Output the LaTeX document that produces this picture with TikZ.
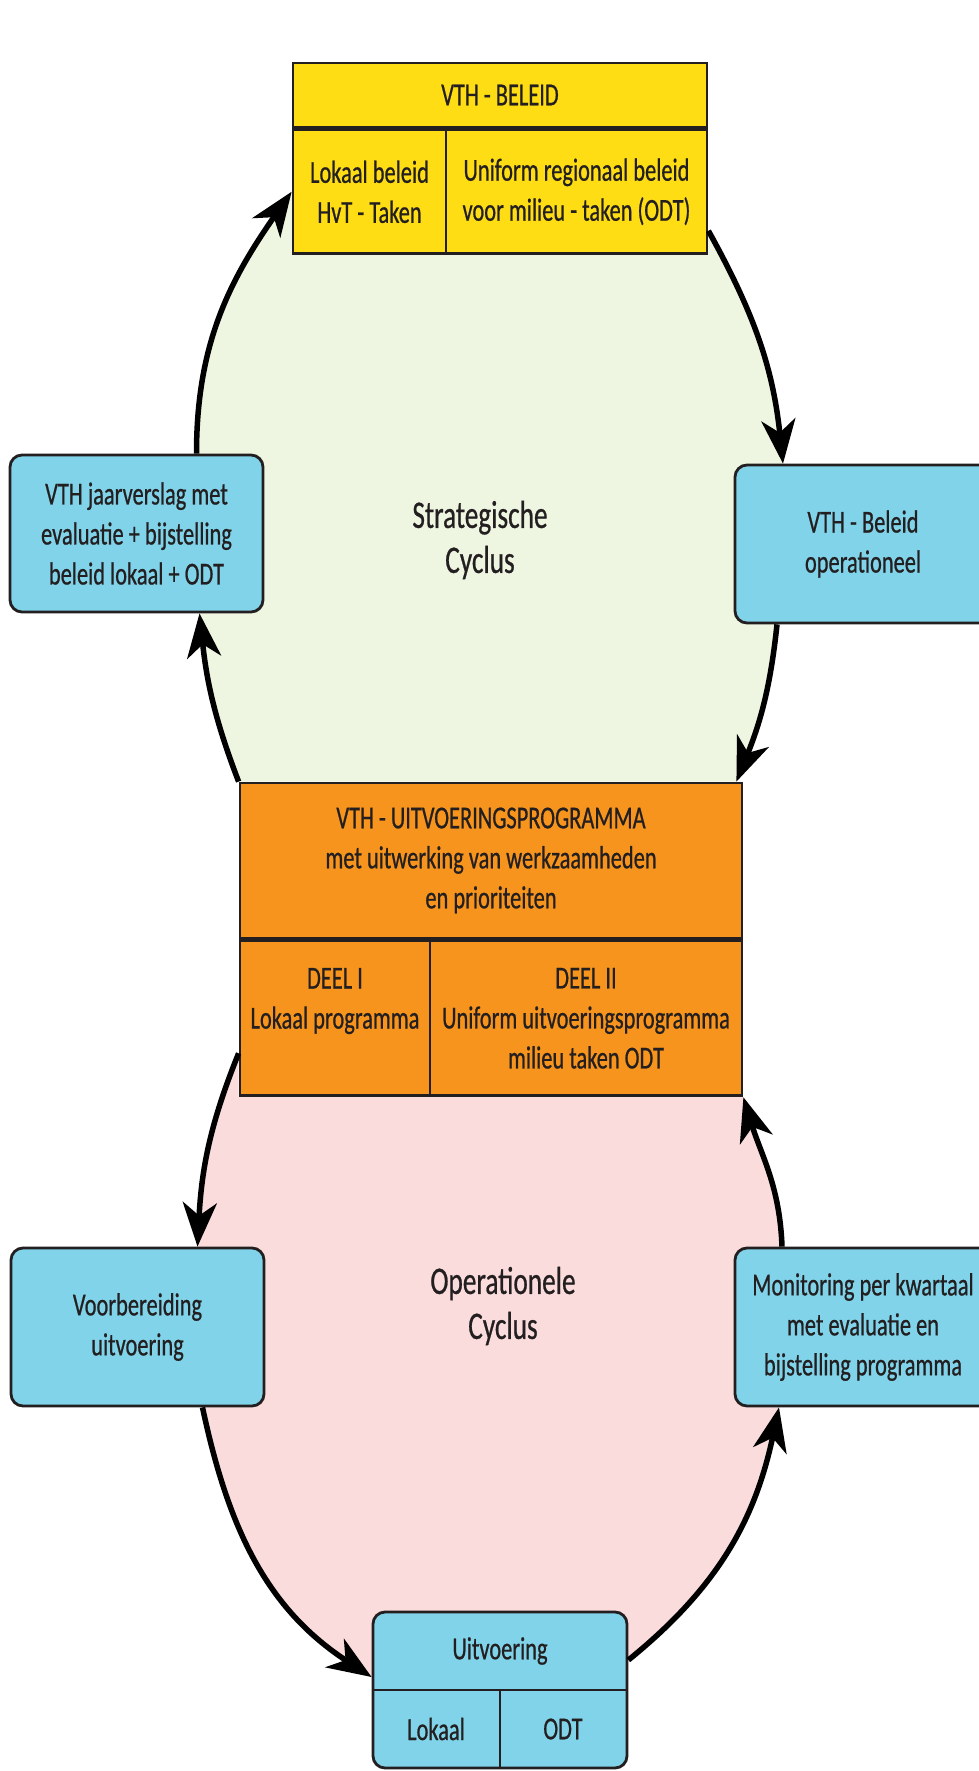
\documentclass[tikz,border=0pt]{standalone}
\usepackage{fontspec}
\setmainfont[FakeStretch=0.7,FakeBold=0.6]{Carlito}
\usetikzlibrary{arrows.meta,positioning,calc,backgrounds}

\definecolor{geel}{HTML}{FFDD15}
\definecolor{oranje}{HTML}{F7941D}
\definecolor{blauw}{HTML}{80D3E9}
\definecolor{groen}{HTML}{EEF5E1}
\definecolor{roze}{HTML}{FADCDD}
\definecolor{lijn}{HTML}{231F20}

\tikzset{
  blok/.style={draw=lijn, line width=2.8pt, text=lijn, align=center, inner sep=0pt},
  vak/.style={blok, fill=blauw, rounded corners=12pt},
  label/.style={text=lijn, align=center, inner sep=0pt},
  pijl/.style={draw=black, line width=5.5pt, -{Stealth[length=44pt,width=34pt,inset=13pt]}},
}

\begin{document}
\begin{tikzpicture}[x=1pt,y=-1pt,font=\fontsize{32}{40}\selectfont]
\useasboundingbox (0,0) rectangle (979,1771);
% VTH beleid
\node[blok, fill=geel, minimum width=414pt, minimum height=64pt] (beleid) at (500,95) {VTH - BELEID};
\node[blok, fill=geel, minimum width=153pt, minimum height=124pt, anchor=north west] (lokbeleid) at (beleid.south west) {Lokaal beleid\\HvT - Taken};
\node[blok, fill=geel, minimum width=261pt, minimum height=124pt, anchor=north east] (regbeleid) at (beleid.south east) {Uniform regionaal beleid\\voor milieu - taken (ODT)};
% uitvoeringsprogramma
\node[blok, fill=oranje, minimum width=502pt, minimum height=155pt] (uitvprog) at (491,860.5) {VTH - UITVOERINGSPROGRAMMA\\met uitwerking van werkzaamheden\\en prioriteiten};
\node[blok, fill=oranje, minimum width=190pt, minimum height=155pt, anchor=north west] (deel1) at (uitvprog.south west) {DEEL I\\Lokaal programma\\~};
\node[blok, fill=oranje, minimum width=312pt, minimum height=155pt, anchor=north east] (deel2) at (uitvprog.south east) {DEEL II\\Uniform uitvoeringsprogramma\\milieu taken ODT};
% blauwe vakken
\node[vak, minimum width=253pt, minimum height=157pt] (jaar) at (136.5,533.5) {VTH jaarverslag met\\evaluatie + bijstelling\\beleid lokaal + ODT};
\node[vak, minimum width=256pt, minimum height=158pt] (opbeleid) at (863,544) {VTH - Beleid\\operationeel};
\node[vak, minimum width=253pt, minimum height=158pt] (voorb) at (137.5,1327) {Voorbereiding\\uitvoering};
\node[vak, minimum width=256pt, minimum height=158pt] (monitor) at (863,1327) {Monitoring per kwartaal\\met evaluatie en\\bijstelling programma};
% uitvoering
\node[vak, minimum width=254pt, minimum height=156pt] (uitv) at (500,1690) {};
\draw[lijn, line width=2.8pt] (uitv.west) -- (uitv.east);
\draw[lijn, line width=2.8pt] (uitv.center) -- (uitv.south);
\node[label] (uitvkop) at (500,1651) {Uitvoering};
\node[label] (uitvlok) at (436,1729) {Lokaal};
\node[label] (uitvodt) at (563,1729) {ODT};
% cyclus vlakken
\begin{scope}[on background layer]
\fill[groen] (lokbeleid.west) -- ([yshift=-39pt]regbeleid.east) to[out=-61,in=96] ([xshift=-80pt]opbeleid.north)
  -- ([xshift=-86pt]opbeleid.south) to[out=-96,in=68] ([xshift=-7pt]uitvprog.north east)
  -- (uitvprog.north west) to[out=111,in=276] ([xshift=63pt]jaar.south)
  -- ([xshift=60pt]jaar.north) to[out=90,in=235] (lokbeleid.west) -- cycle;
\fill[roze] ([yshift=-35pt]deel1.west) to[out=248,in=87] ([xshift=60pt]voorb.north)
  -- ([xshift=65pt]voorb.south) to[out=282,in=147] ([yshift=13pt]uitv.west)
  -- ([yshift=30pt]uitv.east) to[out=39,in=258] ([xshift=-84pt]monitor.south)
  -- ([xshift=-81pt]monitor.north) to[out=92,in=287] (deel2.south east)
  -- (deel1.south west) -- cycle;
\end{scope}
% cyclus teksten
\node[label, font=\fontsize{39}{45}\selectfont] (strat) at (480,540) {Strategische\\Cyclus};
\node[label, font=\fontsize{39}{45}\selectfont] (oper) at (503,1306) {Operationele\\Cyclus};
% pijlen strategisch
\draw[pijl] ([xshift=60pt]jaar.north) to[out=90,in=235] (lokbeleid.west);
\draw[pijl] ([yshift=-39pt]regbeleid.east) to[out=-61,in=96] ([xshift=-80pt]opbeleid.north);
\draw[pijl] ([xshift=-86pt]opbeleid.south) to[out=-96,in=68] ([xshift=-7pt]uitvprog.north east);
\draw[pijl] (uitvprog.north west) to[out=111,in=276] ([xshift=63pt]jaar.south);
% pijlen operationeel
\draw[pijl] ([yshift=-35pt]deel1.west) to[out=248,in=87] ([xshift=60pt]voorb.north);
\draw[pijl] ([xshift=65pt]voorb.south) to[out=282,in=147] ([yshift=13pt]uitv.west);
\draw[pijl] ([yshift=30pt]uitv.east) to[out=39,in=258] ([xshift=-84pt]monitor.south);
\draw[pijl] ([xshift=-81pt]monitor.north) to[out=92,in=287] (deel2.south east);
\end{tikzpicture}
\end{document}
